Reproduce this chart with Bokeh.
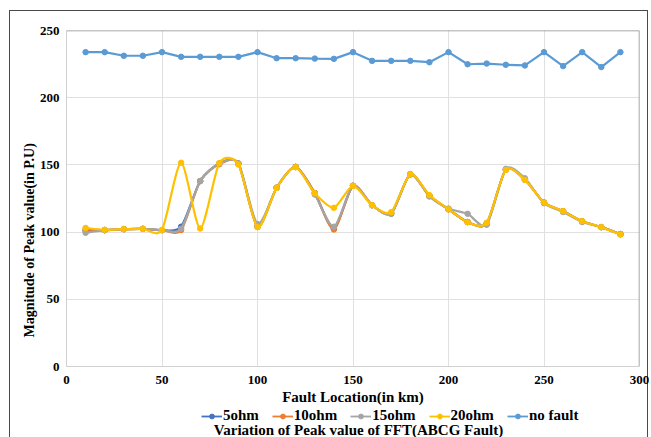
import numpy as np
from bokeh.plotting import figure
from bokeh.layouts import column
from bokeh.models import Legend, LegendItem, Title, Label, Span, ColumnDataSource, FixedTicker
from bokeh.embed import file_html
from bokeh.resources import INLINE

# ---------------- data ----------------
x_km = [10, 20, 30, 40, 50, 60, 70, 80, 90, 100, 110, 120, 130, 140, 150,
        160, 170, 180, 190, 200, 210, 220, 230, 240, 250, 260, 270, 280, 290]

ohm5 = [101.0, 101.5, 102.2, 102.4, 101.5, 104.0, 138.0, 151.0, 151.0, 104.0,
        133.0, 148.5, 129.0, 102.5, 134.5, 120.0, 114.0, 143.0, 127.0, 117.0,
        107.5, 106.5, 146.5, 139.0, 122.0, 115.5, 108.0, 103.7, 98.5]
ohm10 = [102.0, 101.5, 102.2, 102.4, 101.5, 101.5, 138.0, 150.5, 151.0, 104.0,
         133.0, 148.5, 129.0, 102.0, 134.5, 120.0, 114.0, 143.0, 127.0, 117.0,
         107.5, 106.5, 146.5, 139.0, 122.0, 115.5, 108.0, 103.7, 98.5]
ohm15 = [99.5, 101.5, 102.2, 102.4, 101.5, 102.5, 138.0, 151.0, 151.0, 106.0,
         133.0, 148.5, 128.0, 104.0, 134.5, 120.0, 113.5, 143.0, 126.5, 117.5,
         113.6, 105.5, 147.0, 140.0, 121.5, 115.0, 107.5, 103.7, 98.5]
ohm20 = [103.1, 101.7, 102.2, 102.4, 101.7, 151.6, 102.7, 151.3, 150.3, 103.7,
         132.9, 148.3, 128.9, 118.1, 134.4, 120.0, 114.8, 143.1, 127.5, 117.0,
         107.4, 106.9, 146.3, 138.8, 122.0, 115.6, 108.1, 103.7, 98.2]
no_fault = [233.9, 233.9, 231.2, 231.2, 233.9, 230.4, 230.4, 230.4, 230.4, 233.9,
            229.4, 229.4, 229.1, 228.9, 233.9, 227.4, 227.4, 227.4, 226.4, 233.9,
            224.9, 225.4, 224.5, 224.0, 233.9, 223.5, 233.9, 222.8, 233.9]

series_names = ["5ohm", "10ohm", "15ohm", "20ohm", "no fault"]
series_vals = [ohm5, ohm10, ohm15, ohm20, no_fault]
series_colors = ["#4472C4", "#ED7D31", "#A5A5A5", "#FFC000", "#5B9BD5"]
smooth_flags = [True, True, True, True, False]

x_ticks = [0, 50, 100, 150, 200, 250, 300]
y_ticks = [0, 50, 100, 150, 200, 250]

FONT = "Liberation Serif"
GRAD = "linear-gradient(#4a4a4a,#4a4a4a)"
TENSION = 1.0 / 8.0

p = figure(width=649, height=407, x_range=(0, 300), y_range=(0, 250),
           output_backend="svg", toolbar_location=None,
           min_border_left=66, min_border_right=10, min_border_top=30,
           min_border_bottom=41)
p.styles = {
    "background-color": "white",
    "background-image": f"{GRAD}, {GRAD}, {GRAD}",
    "background-size": "1px 100%, 639px 1px, 1px 100%",
    "background-position": "9px 10px, 9px 10px, 647px 10px",
    "background-repeat": "no-repeat",
}
p.outline_line_color = None
p.background_fill_color = "white"
p.border_fill_alpha = 0

for ax in (p.xaxis, p.yaxis):
    ax.axis_line_color = "#d0d0d0"
    ax.major_tick_line_color = None
    ax.minor_tick_line_color = None
    ax.major_tick_out = 0
    ax.major_tick_in = 0
    ax.major_label_text_font = FONT
    ax.major_label_text_font_style = "bold"
    ax.major_label_text_font_size = "13px"
    ax.major_label_text_color = "#000000"
p.xaxis.ticker = FixedTicker(ticks=x_ticks)
p.yaxis.ticker = FixedTicker(ticks=y_ticks)
p.xaxis.major_label_standoff = 9
p.yaxis.major_label_standoff = 7
p.xaxis.axis_label = "Fault Location(in km)"
p.xaxis.axis_label_standoff = 2
p.xaxis.axis_label_text_font = FONT
p.xaxis.axis_label_text_font_style = "bold"
p.xaxis.axis_label_text_font_size = "15px"
p.xaxis.axis_label_text_color = "#000000"
p.xgrid.ticker = FixedTicker(ticks=x_ticks)
p.ygrid.ticker = FixedTicker(ticks=y_ticks)
p.xgrid.grid_line_color = "#e0e0e0"
p.ygrid.grid_line_color = "#e0e0e0"

p.add_layout(Title(text="Magnitude of Peak value(in P.U)", align="left",
                   offset=29, standoff=0, text_font=FONT, text_font_style="bold",
                   text_font_size="14px", text_color="#000000"), "left")

# top and right frame borders (darker, as in reference)
p.add_layout(Span(location=250, dimension="width", line_color="#8a8a8a", line_width=1.5))
p.add_layout(Span(location=300, dimension="height", line_color="#8a8a8a", line_width=1.5))


def smooth_segments(xs, ys):
    X = np.asarray(xs, dtype=float)
    Y = np.asarray(ys, dtype=float)
    n = len(X)
    Xp = np.concatenate([[X[0]], X, [X[-1]]])
    Yp = np.concatenate([[Y[0]], Y, [Y[-1]]])
    i = np.arange(n - 1)
    x0, y0 = X[:-1], Y[:-1]
    x1, y1 = X[1:], Y[1:]
    cx0 = x0 + (Xp[i + 2] - Xp[i]) * TENSION
    cy0 = y0 + (Yp[i + 2] - Yp[i]) * TENSION
    cx1 = x1 - (Xp[i + 3] - Xp[i + 1]) * TENSION
    cy1 = y1 - (Yp[i + 3] - Yp[i + 1]) * TENSION
    return dict(x0=x0, y0=y0, x1=x1, y1=y1, cx0=cx0, cy0=cy0, cx1=cx1, cy1=cy1)


# legend strip (second figure below the chart); its x data units are page pixels
q = figure(width=649, height=30, x_range=(66, 639), y_range=(30, 0),
           output_backend="svg", toolbar_location=None,
           x_axis_type=None, y_axis_type=None,
           min_border_left=0, min_border_right=0, min_border_top=0, min_border_bottom=0)
q.styles = {
    "background-color": "white",
    "background-image": f"{GRAD}, {GRAD}",
    "background-size": "1px 100%, 1px 100%",
    "background-position": "9px 0px, 647px 0px",
    "background-repeat": "no-repeat",
}
q.grid.visible = False
q.outline_line_color = None
q.background_fill_alpha = 0
q.border_fill_alpha = 0

items = []
for name, vals, col, smooth in zip(series_names, series_vals, series_colors, smooth_flags):
    if smooth:
        src = ColumnDataSource(smooth_segments(x_km, vals))
        p.bezier(x0="x0", y0="y0", x1="x1", y1="y1", cx0="cx0", cy0="cy0",
                 cx1="cx1", cy1="cy1", source=src, line_color=col, line_width=2.2)
    else:
        p.line(x=x_km, y=vals, line_color=col, line_width=2.2)
    p.scatter(x=x_km, y=vals, size=5.5, fill_color=col, line_color=col)
    # legend proxies in the legend strip: same series, falls outside this strip's range
    lq = q.line(x=x_km, y=vals, line_color=col, line_width=1.8)
    sq = q.scatter(x=x_km, y=vals, size=4.5, fill_color=col, line_color=col)
    items.append(LegendItem(label=name, renderers=[lq, sq]))

legend = Legend(items=items, orientation="horizontal", location=(135, 13),
                label_text_font=FONT, label_text_font_style="bold",
                label_text_font_size="15px", label_text_color="#000000",
                glyph_width=21, glyph_height=12, label_standoff=1, spacing=13,
                padding=0, margin=0, border_line_color=None,
                background_fill_alpha=0)
q.add_layout(legend, "center")

q.add_layout(Label(x=358, y=22, text="Variation of Peak value of FFT(ABCG Fault)",
                   text_font=FONT, text_font_style="bold", text_font_size="15px",
                   text_align="center", text_baseline="middle", text_color="#000000"))

layout = column(p, q, spacing=0)
open("out.html", "w").write(file_html(layout, INLINE))
